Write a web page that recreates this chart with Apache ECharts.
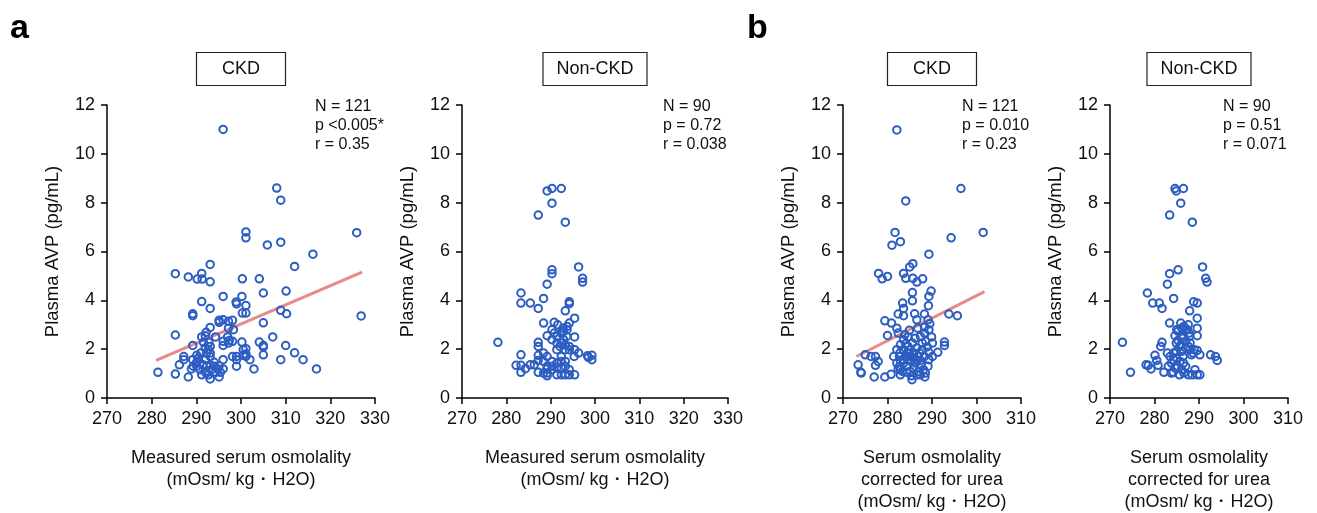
<!DOCTYPE html>
<html>
<head>
<meta charset="utf-8">
<script src="https://cdn.jsdelivr.net/npm/echarts@6/dist/echarts.min.js"></script>
<style>
html,body{margin:0;padding:0;background:#fff;}
#chart{width:1317px;height:513px;}
</style>
</head>
<body>
<div id="chart"></div>
<script>
// ---------- DATA ----------
const panelTitles = ['CKD', 'Non-CKD', 'CKD', 'Non-CKD'];
const panelLetters = ['a', 'b'];
const yAxisName = 'Plasma AVP (pg/mL)';
const xNameMeasured = 'Measured serum osmolality\n(mOsm/ kg\u30FBH2O)';
const xNameCorrected = 'Serum osmolality\ncorrected for urea\n(mOsm/ kg\u30FBH2O)';
const statsCkdMeasured = ['N = 121', 'p <0.005*', 'r = 0.35'];
const statsNonCkdMeasured = ['N = 90', 'p = 0.72', 'r = 0.038'];
const statsCkdCorrected = ['N = 121', 'p = 0.010', 'r = 0.23'];
const statsNonCkdCorrected = ['N = 90', 'p = 0.51', 'r = 0.071'];
const xRangeMeasured = [270, 330];
const xRangeCorrected = [270, 310];
const yRange = [0, 12];

const ckdMeasured = [[296.0,11.0],[308.0,8.6],[308.9,8.1],[301.1,6.8],[301.1,6.56],[305.9,6.27],[308.9,6.38],[316.1,5.89],[312.0,5.39],[285.3,5.09],[288.2,4.96],[291.2,5.1],[290.2,4.87],[291.3,4.87],[293.1,5.47],[293.1,4.76],[300.3,4.88],[304.1,4.88],[296.0,4.16],[300.2,4.16],[291.2,3.95],[298.9,3.93],[299.0,3.85],[301.1,3.79],[305.0,4.30],[310.1,4.38],[293.1,3.67],[289.2,3.45],[289.2,3.37],[300.3,3.48],[301.1,3.48],[308.9,3.59],[310.2,3.45],[295.1,3.18],[296.0,3.2],[297.2,3.14],[298.1,3.18],[295.1,3.1],[293.1,2.89],[298.3,2.80],[297.2,2.86],[305.0,3.08],[285.3,2.58],[292.2,2.69],[291.2,2.50],[292.0,2.55],[294.3,2.50],[297.0,2.50],[297.4,2.36],[298.1,2.32],[300.2,2.29],[297.2,2.25],[307.1,2.50],[304.1,2.29],[305.0,2.15],[305.0,2.09],[310.0,2.15],[289.2,2.15],[291.6,2.28],[292.8,2.28],[293.1,2.11],[292.0,2.05],[292.7,1.98],[296.0,2.15],[301.1,2.02],[299.0,1.70],[298.1,1.70],[300.5,1.75],[301.1,1.80],[302.0,1.57],[305.0,1.77],[312.0,1.85],[308.9,1.57],[313.9,1.57],[316.9,1.19],[302.9,1.19],[299.0,1.30],[296.0,1.57],[296.0,1.19],[295.1,1.32],[295.1,0.86],[293.1,0.78],[294.3,1.05],[293.1,1.36],[294.0,1.46],[292.2,1.02],[291.2,0.95],[290.8,1.16],[290.1,1.30],[290.2,1.50],[290.1,1.75],[289.3,1.30],[288.9,1.19],[288.2,0.86],[287.2,1.57],[287.2,1.70],[286.2,1.36],[285.3,0.98],[281.4,1.05],[292.3,1.84],[293.1,1.70],[292.0,1.57],[293.4,1.16],[292.3,1.30],[291.5,1.36],[290.0,1.43],[289.2,1.57],[294.8,1.19],[295.4,1.05],[294.0,1.30],[292.0,1.09],[292.7,0.95],[300.5,1.98],[296.0,2.32],[290.5,1.64],[291.0,1.84],[299.0,1.57],[301.1,1.70],[293.1,1.84],[325.9,6.77],[326.9,3.36]];

const nonCkdMeasured = [[278.1,2.28],[283.3,4.30],[283.3,3.89],[285.4,3.89],[287.2,3.67],[288.4,4.08],[289.2,4.66],[290.3,5.25],[290.3,5.09],[289.2,8.48],[290.3,8.58],[292.4,8.58],[290.3,7.98],[287.2,7.49],[293.3,7.20],[296.3,5.37],[297.2,4.90],[297.2,4.75],[294.2,3.94],[294.2,3.86],[293.3,3.57],[295.4,3.27],[288.4,3.07],[290.8,3.10],[291.6,3.0],[292.8,2.86],[293.7,2.93],[293.7,2.80],[290.3,2.80],[289.2,2.55],[290.3,2.39],[291.4,2.52],[292.4,2.66],[292.9,2.39],[295.4,2.50],[287.2,2.28],[287.2,2.11],[292.4,2.25],[293.3,2.18],[291.4,1.98],[293.3,1.98],[294.2,1.98],[295.4,1.98],[296.3,1.84],[298.3,1.73],[299.3,1.75],[299.3,1.57],[298.5,1.66],[283.3,1.77],[287.2,1.75],[288.4,1.84],[289.2,1.70],[287.2,1.54],[282.2,1.34],[283.3,1.34],[284.3,1.20],[285.4,1.36],[286.3,1.36],[283.3,1.05],[287.2,1.05],[288.4,1.50],[289.2,1.30],[289.2,1.02],[289.2,0.91],[290.3,1.50],[291.4,1.43],[292.4,1.50],[293.3,1.50],[291.4,1.23],[292.4,1.23],[294.2,1.16],[291.4,0.95],[292.4,0.95],[293.3,0.95],[294.2,0.95],[295.4,0.95],[290.3,1.16],[289.2,1.19],[288.4,1.02],[293.3,1.30],[292.4,1.70],[292.1,2.11],[294.2,2.11],[294.2,3.07],[291.4,2.25],[293.6,2.52],[292.9,2.73],[290.8,2.66],[290.3,1.30],[295.3,1.70]];

const ckdCorrected = [[282.1,10.98],[296.5,8.58],[284.1,8.07],[281.7,6.78],[281.0,6.26],[282.9,6.40],[294.3,6.56],[301.5,6.78],[289.3,5.89],[285.0,5.37],[285.7,5.50],[278.0,5.10],[278.8,4.88],[280.0,4.98],[283.6,5.10],[284.1,4.90],[285.7,4.90],[286.6,4.75],[287.9,4.88],[285.6,4.32],[285.6,3.98],[283.4,3.89],[289.8,4.38],[289.3,4.16],[289.2,3.78],[283.6,3.67],[282.4,3.44],[283.6,3.37],[286.1,3.45],[286.6,3.20],[289.1,3.20],[288.3,3.44],[293.8,3.44],[295.7,3.37],[279.4,3.16],[280.9,3.07],[282.1,2.86],[282.4,2.66],[280.0,2.56],[286.8,2.86],[289.3,2.80],[287.4,2.52],[284.6,2.50],[289.9,2.50],[283.6,2.39],[288.6,2.32],[292.8,2.29],[292.8,2.15],[282.1,1.98],[283.6,1.98],[284.6,2.11],[285.1,1.98],[286.6,2.05],[287.8,1.98],[289.3,1.87],[291.3,1.87],[290.1,1.70],[281.4,1.70],[282.7,1.70],[284.0,1.70],[285.1,1.70],[286.8,1.70],[288.3,1.70],[275.0,1.77],[276.3,1.70],[277.3,1.70],[277.9,1.50],[277.3,1.34],[273.4,1.36],[274.0,1.05],[274.1,1.02],[277.0,0.86],[279.4,0.86],[280.8,0.97],[282.9,1.16],[282.9,0.95],[283.6,1.43],[284.4,1.30],[285.3,1.50],[285.9,1.23],[285.4,0.91],[285.5,0.75],[286.6,1.54],[287.5,1.36],[288.1,1.16],[288.4,0.86],[289.1,1.30],[289.3,1.57],[288.5,1.02],[282.1,1.43],[282.7,1.30],[283.4,1.09],[284.4,1.05],[284.8,1.84],[285.9,1.84],[287.2,1.84],[287.4,1.54],[286.3,1.43],[287.8,2.25],[285.6,2.25],[284.1,2.22],[282.9,2.18],[286.2,2.45],[288.3,2.66],[288.3,2.90],[289.5,3.04],[284.4,1.84],[283.6,1.57],[282.9,1.54],[284.6,1.57],[285.9,1.64],[287.0,1.09],[290.1,2.25],[285.1,1.09],[282.4,1.19],[287.4,0.95],[288.9,2.09],[283.9,2.59],[284.9,2.77],[282.8,1.84],[286.6,0.95]];

const nonCkdCorrected = [[272.8,2.28],[274.6,1.05],[278.4,4.30],[279.6,3.89],[281.1,3.89],[281.7,3.67],[284.3,4.08],[282.9,4.66],[283.4,5.09],[285.3,5.25],[284.6,8.58],[284.9,8.48],[286.5,8.58],[285.9,7.98],[283.4,7.49],[288.5,7.20],[290.8,5.37],[291.5,4.90],[291.8,4.75],[288.8,3.94],[289.6,3.89],[287.9,3.57],[289.6,3.27],[283.4,3.07],[285.9,3.07],[286.6,2.93],[287.6,3.00],[285.0,2.80],[289.6,2.86],[289.6,2.55],[284.6,2.55],[286.1,2.52],[287.8,2.66],[285.3,2.36],[287.0,2.32],[281.7,2.28],[281.4,2.11],[285.9,2.18],[287.6,2.11],[287.9,1.98],[288.9,1.98],[289.6,1.95],[288.3,1.77],[290.2,1.77],[292.6,1.77],[293.7,1.70],[294.1,1.54],[280.1,1.75],[282.9,1.84],[284.3,1.84],[284.3,1.57],[280.5,1.54],[278.1,1.36],[278.6,1.34],[279.2,1.19],[280.8,1.34],[282.1,1.05],[283.1,1.30],[283.8,1.43],[284.2,1.05],[284.6,1.23],[285.6,0.95],[285.7,1.50],[286.5,1.43],[287.0,1.30],[287.6,0.95],[288.5,0.95],[289.1,1.16],[289.6,0.95],[290.2,0.95],[285.2,1.30],[286.1,1.16],[284.9,1.64],[286.1,1.91],[287.0,2.05],[288.0,2.25],[285.7,2.11],[284.9,2.25],[286.3,2.45],[287.0,2.82],[286.1,2.86],[287.9,2.52],[284.9,1.91],[283.5,1.70],[283.8,1.02],[286.6,1.02],[288.7,1.84],[287.4,2.80],[285.3,2.73],[286.4,1.70]];

// regression line end points [x, y]
const fitCkdMeasured = [[281.0, 1.54], [327.1, 5.16]];
const fitCkdCorrected = [[273.0, 1.70], [301.8, 4.36]];

// ---------- STYLE / LAYOUT ----------
const FONT = 'Liberation Sans, Arial, Helvetica, sans-serif';
const BLUE = '#2C5DC2';
const FIT = '#E8898A';
const grids = [
  {left: 107, top: 105, width: 268, height: 293},
  {left: 462, top: 105, width: 266, height: 293},
  {left: 843, top: 105, width: 178, height: 293},
  {left: 1110, top: 105, width: 178, height: 293}
];
const xRanges = [xRangeMeasured, xRangeMeasured, xRangeCorrected, xRangeCorrected];
const xNames = [xNameMeasured, xNameMeasured, xNameCorrected, xNameCorrected];
const scatterData = [ckdMeasured, nonCkdMeasured, ckdCorrected, nonCkdCorrected];
const fits = [fitCkdMeasured, null, fitCkdCorrected, null];
const stats = [statsCkdMeasured, statsNonCkdMeasured, statsCkdCorrected, statsNonCkdCorrected];
const statsX = [315, 663, 962, 1223];
const boxW = [89, 104, 89, 104];

const axisCommon = {
  axisLine: {show: true, lineStyle: {color: '#000', width: 1.5}},
  axisTick: {show: true, inside: false, length: 6, lineStyle: {color: '#000', width: 1.5}},
  splitLine: {show: false}
};

const xAxes = [], yAxes = [], series = [], graphic = [];
grids.forEach((g, i) => {
  xAxes.push(Object.assign({}, axisCommon, {
    type: 'value', gridIndex: i, min: xRanges[i][0], max: xRanges[i][1], interval: 10,
    name: xNames[i], nameLocation: 'middle', nameGap: 49,
    nameTextStyle: {color: '#111', fontSize: 18, fontFamily: FONT, lineHeight: 22},
    axisLabel: {color: '#111', fontSize: 18, fontFamily: FONT, margin: 12}
  }));
  yAxes.push(Object.assign({}, axisCommon, {
    type: 'value', gridIndex: i, min: yRange[0], max: yRange[1], interval: 2,
    name: yAxisName, nameLocation: 'middle', nameGap: 45,
    nameTextStyle: {color: '#111', fontSize: 18.5, fontFamily: FONT},
    axisLabel: {color: '#111', fontSize: 18, fontFamily: FONT, margin: 12}
  }));
  if (fits[i]) {
    series.push({
      type: 'line', xAxisIndex: i, yAxisIndex: i, data: fits[i], symbol: 'none',
      lineStyle: {color: FIT, width: 3}, z: 2, silent: true, animation: false
    });
  }
  series.push({
    type: 'scatter', xAxisIndex: i, yAxisIndex: i, data: scatterData[i],
    symbol: 'circle', symbolSize: 7.5,
    itemStyle: {color: 'rgba(255,255,255,0)', borderColor: BLUE, borderWidth: 2, opacity: 1},
    z: 3, animation: false
  });
  const cx = g.left + g.width / 2;
  graphic.push({
    type: 'rect', shape: {x: cx - boxW[i] / 2, y: 52.5, width: boxW[i], height: 33},
    style: {fill: '#fff', stroke: '#222', lineWidth: 1.2}
  });
  graphic.push({
    type: 'text', x: cx, y: 69,
    style: {text: panelTitles[i], font: '18px ' + FONT, fill: '#111', align: 'center', verticalAlign: 'middle'}
  });
  graphic.push({
    type: 'text', x: statsX[i], y: 97,
    style: {text: stats[i].join('\n'), font: '16px ' + FONT, lineHeight: 19, fill: '#111', align: 'left', verticalAlign: 'top'}
  });
});
graphic.push({type: 'text', x: 10, y: 12, style: {text: panelLetters[0], font: 'bold 34px ' + FONT, fill: '#000'}});
graphic.push({type: 'text', x: 747, y: 12, style: {text: panelLetters[1], font: 'bold 34px ' + FONT, fill: '#000'}});

const chart = echarts.init(document.getElementById('chart'), null, {renderer: 'canvas'});
chart.setOption({
  backgroundColor: '#fff',
  animation: false,
  grid: grids.map(g => Object.assign({containLabel: false, outerBoundsMode: 'none'}, g)),
  xAxis: xAxes,
  yAxis: yAxes,
  series: series,
  graphic: graphic
});
</script>
</body>
</html>
